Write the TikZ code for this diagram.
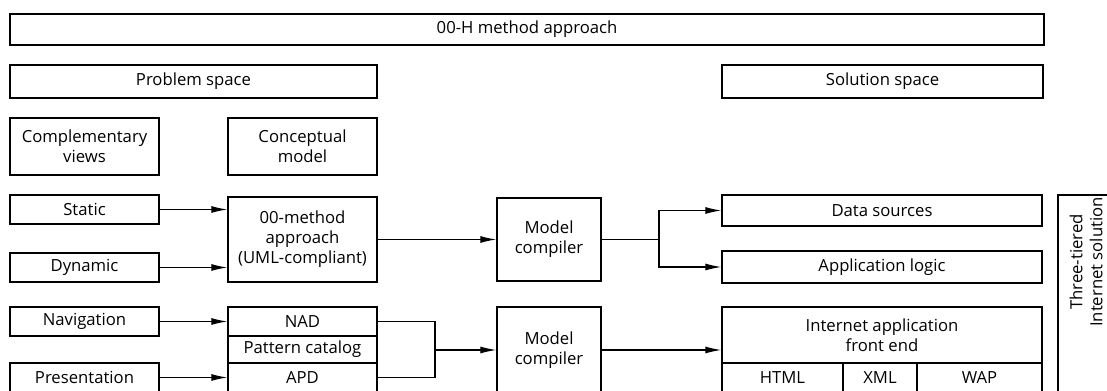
\documentclass[tikz,border=0pt]{standalone}
\usepackage{fontspec}
\setmainfont{Open Sans}
\usepackage{tikz}
\usetikzlibrary{arrows.meta,positioning}

\tikzset{
  blk/.style={draw, line width=0.8pt, inner sep=0pt, align=center, font=\fontsize{9.5}{11.4}\selectfont},
  arr/.style={-{Latex[length=3.2mm,width=1.4mm]}, line width=0.7pt},
  ln/.style={line width=0.7pt}
}

\begin{document}
\begin{tikzpicture}[x=0.02cm, y=-0.02cm]
   \useasboundingbox (0,0) rectangle (1107,391);
   \clip (0,0) rectangle (1107,391);
   % headings
   \node[blk, minimum width=20.68cm, minimum height=0.62cm] (title) at (527,29.5) {00-H method approach};
   \node[blk, minimum width=7.34cm, minimum height=0.66cm] (prob) at (193.5,81.5) {Problem space};
   \node[blk, minimum width=6.42cm, minimum height=0.66cm] (sol) at (882.5,81.5) {Solution space};
   \begin{scope}[every node/.style={blk, minimum width=2.98cm}]
    \node[minimum height=1.14cm] (compl) at (84.5,146.5) {Complementary\\views};
    \node[minimum height=1.14cm] (concept) at (302.5,146.5) {Conceptual\\model};
    \node[minimum height=0.58cm] (static) at (84.5,209.5) {Static};
    \node[minimum height=0.58cm] (dynamic) at (84.5,267.5) {Dynamic};
    \node[minimum height=0.58cm] (navig) at (84.5,321.5) {Navigation};
    \node[minimum height=0.58cm] (present) at (84.5,377.5) {Presentation};
    \node[minimum height=1.70cm] (oomethod) at (302.5,239.5) {00-method\\approach\\(UML-compliant)};
    \node[minimum height=0.58cm] (nad) at (302.5,321.5) {NAD};
    \node[minimum height=0.54cm] (patt) at (302.5,349.5) {Pattern catalog};
    \node[minimum height=0.58cm] (apd) at (302.5,377.5) {APD};
   \end{scope}
   % compilers
   \node[blk, minimum width=2.08cm, minimum height=1.66cm] (mc1) at (549,239.5) {Model\\compiler};
   \node[blk, minimum width=2.08cm, minimum height=1.72cm] (mc2) at (549,350) {Model\\compiler};
   % solution side
   \begin{scope}[every node/.style={blk}]
    \node[minimum width=6.40cm, minimum height=0.62cm] (data) at (882,210.5) {Data sources};
    \node[minimum width=6.40cm, minimum height=0.64cm] (applogic) at (882,267) {Application logic};
    \node[minimum width=6.40cm, minimum height=1.12cm] (iafront) at (882,335) {Internet application\\front end};
    \node[minimum width=2.42cm, minimum height=0.60cm] (html) at (782.5,378) {HTML};
    \node[minimum width=1.48cm, minimum height=0.60cm] (xml) at (880,378) {XML};
    \node[minimum width=2.50cm, minimum height=0.60cm] (wap) at (979.5,378) {WAP};
    \node[minimum width=1.12cm, minimum height=4.10cm] (tier) at (1086,297.5) {};
   \end{scope}
   \node[rotate=90, align=center, inner sep=0pt, font=\fontsize{9.5}{11.4}\selectfont] (tiertxt) at (1086,262) {Three-tiered\\Internet solution};
   % connectors
   \draw[arr] (static.east) -- (static.east -| oomethod.west);
   \draw[arr] (dynamic.east) -- (dynamic.east -| oomethod.west);
   \draw[arr] (navig.east) -- (navig.east -| nad.west);
   \draw[arr] (present.east) -- (present.east -| apd.west);
   \draw[arr] (oomethod) -- (mc1);
   \coordinate (split) at (659,239.5);
   \draw[ln] (mc1.east) -- (split);
   \draw[arr] (split) |- (data.west);
   \draw[arr] (split) |- (applogic.west);
   \coordinate (brk) at (435,350);
   \draw[ln] (nad.east) -| (brk) |- (apd.east);
   \draw[arr] (brk) -- (brk -| mc2.west);
   \draw[arr] (mc2.east) -- (mc2.east -| iafront.west);
\end{tikzpicture}
\end{document}
